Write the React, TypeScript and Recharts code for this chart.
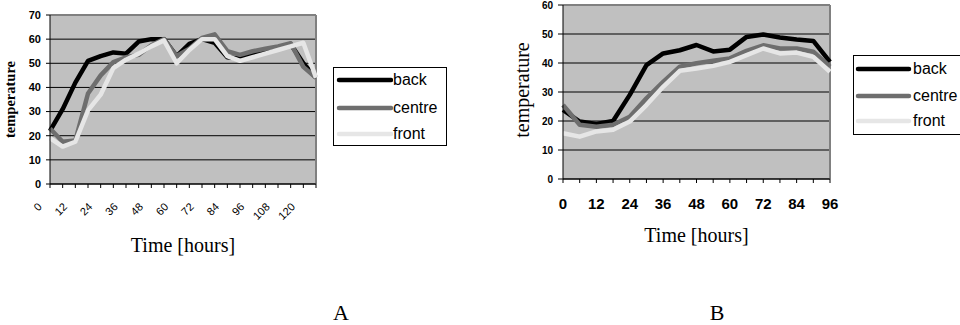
import React from 'react';
import { LineChart, Line, XAxis, YAxis, CartesianGrid, Legend, ReferenceLine, Label } from 'recharts';

// ---- Data: chart A ----
const hoursA = [0, 6, 12, 18, 24, 30, 36, 42, 48, 54, 60, 66, 72, 78, 84, 90, 96, 102, 108, 114, 120, 126];
const backA = [22, 31, 42, 51, 53, 54.5, 54, 59, 60, 60, 53, 58, 60, 58.5, 52.5, 52, 54, 55.5, 56.5, 58, 50, 44];
const centreA = [23, 17.5, 18, 37.5, 45, 50.5, 52.5, 53.5, 57.5, 60, 53, 56, 60.5, 62, 55, 53.5, 55, 56, 57, 58.3, 48.5, 44];
const frontA = [19, 15.5, 17.5, 30.5, 37, 48, 51.5, 54, 57, 59.5, 50, 55.5, 60, 60, 53, 51, 52.5, 54, 55.5, 57, 58.5, 44];
const yTicksA = [0, 10, 20, 30, 40, 50, 60, 70];

// ---- Data: chart B ----
const hoursB = [0, 6, 12, 18, 24, 30, 36, 42, 48, 54, 60, 66, 72, 78, 84, 90, 96];
const backB = [23.8, 19.8, 19, 20, 29, 39.3, 43.3, 44.4, 46.2, 44, 44.6, 49, 49.8, 48.8, 48.1, 47.6, 40.4];
const centreB = [25.5, 18.7, 18, 18.7, 21.5, 27.8, 33.5, 38.7, 39.9, 40.8, 41.6, 44.2, 46.1, 45, 45, 43.9, 38.7];
const frontB = [15.8, 14.6, 16.4, 17, 19.8, 25.5, 31.8, 37.3, 38.1, 39, 40.4, 42.7, 45, 43.3, 43.6, 42.1, 37];
const yTicksB = [0, 10, 20, 30, 40, 50, 60];

const seriesKeys = ['back', 'centre', 'front'];
const seriesColors = ['#000000', '#6e6e6e', '#e6e6e6'];
const xTitle = 'Time [hours]';
const yTitle = 'temperature';
const panelLabels = ['A', 'B'];

const dataA = hoursA.map((t, i) => ({ t, back: backA[i], centre: centreA[i], front: frontA[i] }));
const dataB = hoursB.map((t, i) => ({ t, back: backB[i], centre: centreB[i], front: frontB[i] }));

const SANS = '"Liberation Sans", Arial, sans-serif';
const SERIF = '"Liberation Serif", "Times New Roman", serif';

const everyTwelve = (v: any) => (Number(v) % 12 === 0 ? String(v) : '');

type LegendProps = { w: number; h: number; rows: number[]; lineX1: number; lineX2: number; textX: number };
const LegendBox = ({ w, h, rows, lineX1, lineX2, textX }: LegendProps) => (
  <div
    style={{
      position: 'relative',
      boxSizing: 'border-box',
      width: w,
      height: h,
      border: '1px solid #000',
      background: '#fff',
      fontFamily: SANS,
      fontSize: 16,
      color: '#000',
    }}
  >
    {seriesKeys.map((k, i) => (
      <div key={k} style={{ position: 'absolute', left: 0, top: rows[i] - 13, height: 26, width: w }}>
        <svg width={textX} height={26} style={{ position: 'absolute', left: 0, top: 0 }}>
          <line x1={lineX1} y1={13} x2={lineX2} y2={13} stroke={seriesColors[i]} strokeWidth={4.5} strokeLinecap="round" />
        </svg>
        <span style={{ position: 'absolute', left: textX, top: 13, transform: 'translateY(-50%)', lineHeight: '18px' }}>{k}</span>
      </div>
    ))}
  </div>
);

export default function App() {
  return (
    <div style={{ position: 'absolute', left: 0, top: 0, width: 960, height: 325, overflow: 'hidden', background: '#fff' }}>
      {/* Chart A */}
      <div style={{ position: 'absolute', left: 0, top: 0 }}>
        <LineChart width={470} height={280} data={dataA} margin={{ top: 15, right: 154, bottom: 95, left: 49 }}>
          <CartesianGrid fill="#c0c0c0" stroke="#000" vertical={false} strokeOpacity={1} />
          <XAxis
            dataKey="t"
            type="category"
            height={1}
            interval={0}
            tickSize={4}
            tickMargin={14}
            angle={-45}
            axisLine={{ stroke: '#000' }}
            tickLine={{ stroke: '#000' }}
            tick={{ fontSize: 11, fill: '#000', fontFamily: SANS, textAnchor: 'end', dx: -13 }}
            tickFormatter={everyTwelve}
            padding={{ left: 0, right: 0 }}
          >
            <Label
              content={(p: any) => (
                <text x={p.viewBox.x + p.viewBox.width / 2} y={p.viewBox.y + 68} textAnchor="middle" fontFamily={SERIF} fontSize={20} fill="#000">
                  {xTitle}
                </text>
              )}
            />
          </XAxis>
          <YAxis
            width={1}
            domain={[0, 70]}
            ticks={yTicksA}
            interval={0}
            tickSize={4}
            tickMargin={5}
            axisLine={{ stroke: '#000' }}
            tickLine={{ stroke: '#000' }}
            tick={{ fontSize: 11, fontWeight: 'bold', fill: '#000', fontFamily: SANS }}
          >
            <Label
              content={(p: any) => (
                <text
                  x={0}
                  y={0}
                  transform={`translate(${p.viewBox.x - 34},${p.viewBox.y + p.viewBox.height / 2}) rotate(-90)`}
                  textAnchor="middle"
                  fontFamily={SERIF}
                  fontWeight="bold"
                  fontSize={14.5}
                  fill="#000"
                >
                  {yTitle}
                </text>
              )}
            />
          </YAxis>
          <ReferenceLine y={70} stroke="#808080" strokeWidth={2} />
          <ReferenceLine x={126} stroke="#808080" strokeWidth={2} />
          {seriesKeys.map((k, i) => (
            <Line
              key={k}
              type="linear"
              dataKey={k}
              stroke={seriesColors[i]}
              strokeWidth={4.5}
              strokeLinejoin="round"
              dot={false}
              activeDot={false}
              isAnimationActive={false}
            />
          ))}
          <Legend
            layout="vertical"
            align="center"
            verticalAlign="middle"
            wrapperStyle={{ left: 333, top: 67, width: 114, height: 79, bottom: 'auto', right: 'auto' }}
            content={() => <LegendBox w={114} h={79} rows={[12, 40, 66]} lineX1={5} lineX2={57} textX={59} />}
          />
        </LineChart>
      </div>

      {/* Chart B */}
      <div style={{ position: 'absolute', left: 480, top: 0 }}>
        <LineChart width={480} height={280} data={dataB} margin={{ top: 5, right: 130, bottom: 100, left: 82 }}>
          <CartesianGrid fill="#c0c0c0" stroke="#000" vertical={false} strokeOpacity={1} />
          <XAxis
            dataKey="t"
            type="category"
            height={1}
            interval={0}
            tickSize={4}
            tickMargin={15}
            axisLine={{ stroke: '#000' }}
            tickLine={{ stroke: '#000' }}
            tick={{ fontSize: 15, fontWeight: 'bold', fill: '#000', fontFamily: SANS }}
            tickFormatter={everyTwelve}
            padding={{ left: 0, right: 0 }}
          >
            <Label
              content={(p: any) => (
                <text x={p.viewBox.x + p.viewBox.width / 2} y={p.viewBox.y + 63} textAnchor="middle" fontFamily={SERIF} fontSize={20} fill="#000">
                  {xTitle}
                </text>
              )}
            />
          </XAxis>
          <YAxis
            width={1}
            domain={[0, 60]}
            ticks={yTicksB}
            interval={0}
            tickSize={5}
            tickMargin={5}
            axisLine={{ stroke: '#000' }}
            tickLine={{ stroke: '#000' }}
            tick={{ fontSize: 10, fontWeight: 'bold', fill: '#000', fontFamily: SANS }}
          >
            <Label
              content={(p: any) => (
                <text
                  x={0}
                  y={0}
                  transform={`translate(${p.viewBox.x - 33},${p.viewBox.y + p.viewBox.height / 2 - 2}) rotate(-90)`}
                  textAnchor="middle"
                  fontFamily={SERIF}
                  fontSize={20}
                  fill="#000"
                >
                  {yTitle}
                </text>
              )}
            />
          </YAxis>
          <ReferenceLine y={60} stroke="#808080" strokeWidth={2} />
          <ReferenceLine x={96} stroke="#808080" strokeWidth={2} />
          {seriesKeys.map((k, i) => (
            <Line
              key={k}
              type="linear"
              dataKey={k}
              stroke={seriesColors[i]}
              strokeWidth={4.5}
              strokeLinejoin="round"
              dot={false}
              activeDot={false}
              isAnimationActive={false}
            />
          ))}
          <Legend
            layout="vertical"
            align="center"
            verticalAlign="middle"
            wrapperStyle={{ left: 373, top: 55, width: 114, height: 80, bottom: 'auto', right: 'auto' }}
            content={() => <LegendBox w={114} h={80} rows={[13, 40, 65]} lineX1={4} lineX2={55} textX={59} />}
          />
        </LineChart>
      </div>

      {/* Panel letters */}
      <svg width={960} height={325} style={{ position: 'absolute', left: 0, top: 0, pointerEvents: 'none' }}>
        <text x={341} y={320} textAnchor="middle" fontFamily={SERIF} fontSize={22} fill="#000">{panelLabels[0]}</text>
        <text x={717} y={320} textAnchor="middle" fontFamily={SERIF} fontSize={22} fill="#000">{panelLabels[1]}</text>
      </svg>
    </div>
  );
}
